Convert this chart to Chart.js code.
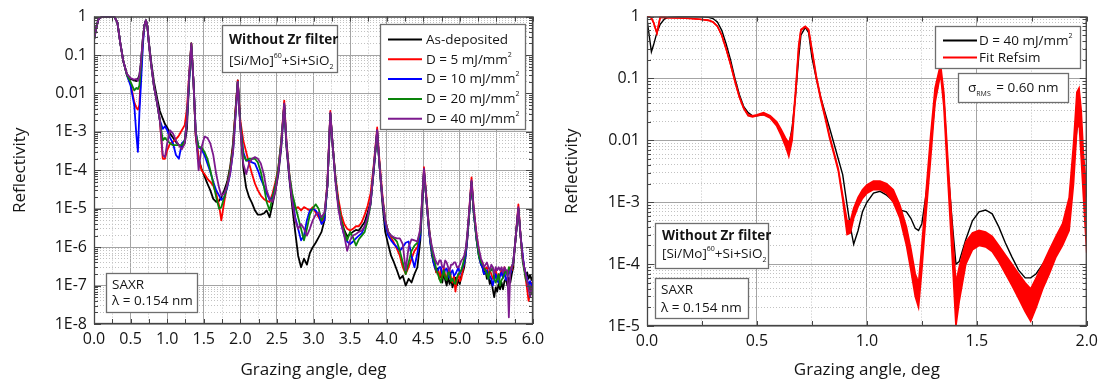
<!DOCTYPE html>
<html>
<head>
<meta charset="utf-8">
<script src="https://cdn.jsdelivr.net/npm/chart.js@4.4.1/dist/chart.umd.min.js"></script>
<style>
html,body{margin:0;padding:0;background:#fff;}
#wrap{position:relative;width:1104px;height:383px;overflow:hidden;}
.panel{position:absolute;top:0;width:552px;height:383px;}
</style>
</head>
<body>
<div id="wrap">
  <div class="panel" style="left:0"><canvas id="c1"></canvas></div>
  <div class="panel" style="left:552px"><canvas id="c2"></canvas></div>
</div>
<script>
// ================= DATA =================
// Left panel: grazing angle (deg)
const xLeft = [
 0.00,0.03,0.06,0.10,0.20,0.28,0.32,0.36,0.40,0.45,
 0.50,0.55,0.58,0.60,0.62,0.64,0.67,0.69,0.71,0.73,
 0.75,0.78,0.82,0.86,0.90,0.94,0.97,1.00,1.04,1.08,
 1.12,1.16,1.20,1.24,1.27,1.30,1.33,1.36,1.39,1.43,
 1.47,1.51,1.55,1.59,1.63,1.67,1.71,1.74,1.78,1.82,
 1.86,1.90,1.93,1.965,2.00,2.04,2.08,2.12,2.16,2.20,
 2.24,2.28,2.32,2.36,2.40,2.44,2.48,2.52,2.56,2.60,
 2.63,2.67,2.71,2.75,2.79,2.83,2.87,2.91,2.95,2.99,
 3.03,3.07,3.11,3.15,3.19,3.23,3.26,3.30,3.34,3.38,
 3.42,3.46,3.50,3.54,3.58,3.62,3.66,3.70,3.74,3.78,
 3.82,3.87,3.90,3.94,3.98,4.02,4.06,4.10,4.14,4.18,
 4.22,4.26,4.30,4.34,4.38,4.42,4.46,4.51,4.54,
 4.58,4.60,4.62,4.64,4.66,4.68,4.70,4.72,4.74,4.76,
 4.78,4.80,4.82,4.84,4.86,4.88,4.90,4.92,4.94,4.96,
 4.98,5.00,5.02,5.04,5.06,5.08,5.10,
 5.13,5.16,5.19,5.23,5.26,
 5.29,5.31,5.33,5.35,5.37,5.39,5.41,5.43,5.45,5.47,
 5.49,5.51,5.53,5.55,5.57,5.59,5.61,5.63,5.65,5.67,
 5.69,5.71,5.73,
 5.76,5.80,5.83,
 5.86,5.88,5.90,5.92,5.94,5.96,5.98,6.00
];
const asDeposited = [
 0.25,0.5,0.85,0.97,1.0,0.98,0.7,0.2,0.07,0.032,
 0.024,0.022,0.021,0.024,0.03,0.06,0.3,0.6,0.8,0.55,
 0.22,0.07,0.02,0.008,0.0035,2.2e-3,1.6e-3,1.3e-3,9e-4,7e-4,
 5.5e-4,4.5e-4,4e-4,5e-4,1.2e-3,0.02,0.2,0.02,8e-4,2e-4,
 1.1e-4,7e-5,4.5e-5,3e-5,1.8e-5,1.5e-5,1.6e-5,2e-5,3e-5,5e-5,
 1.2e-4,5e-4,3e-3,0.022,1.5e-3,1.2e-4,3.5e-5,2e-5,1.4e-5,9e-6,
 7e-6,7e-6,7.5e-6,9e-6,6e-6,1.3e-5,3e-5,8e-5,4e-4,5.5e-3,
 4e-4,6e-5,1.1e-5,2.5e-6,6e-7,3e-7,5e-7,3.5e-7,7e-7,1e-6,
 1.3e-6,1.8e-6,2.5e-6,5e-6,4e-5,3e-3,5e-4,6e-5,1.3e-5,5e-6,
 2.8e-6,1.9e-6,2.2e-6,2.5e-6,2.8e-6,2.7e-6,3.5e-6,4.5e-6,8e-6,1.5e-5,
 8e-5,1e-3,1.5e-4,1.5e-5,2.5e-6,1.2e-6,6e-7,4e-7,2.5e-7,1.5e-7,
 1.8e-7,1e-7,1.5e-7,1.2e-7,2e-7,3e-7,1.5e-6,9e-5,2e-5,
 2.5e-6,1.2e-6,6e-7,4e-7,3e-7,2.2e-7,2.8e-7,1.6e-7,2e-7,1.2e-7,
 2.2e-7,1.4e-7,1e-7,1.7e-7,1.1e-7,1.5e-7,9e-8,1.3e-7,1.6e-7,1e-7,
 1.4e-7,1.1e-7,1.8e-7,2.2e-7,3e-7,6e-7,1.5e-6,
 8e-6,5e-5,8e-6,1.5e-6,6e-7,
 3.5e-7,3e-7,2e-7,2.5e-7,1.5e-7,1.8e-7,1.1e-7,1.4e-7,8e-8,5e-8,
 9e-8,7e-8,1.1e-7,8e-8,1.2e-7,8e-8,1.3e-7,1.5e-7,1e-7,1.6e-7,
 1.2e-7,2e-7,3e-7,
 1.5e-6,1e-5,2e-6,
 5e-7,3e-7,1.8e-7,2.2e-7,1.5e-7,1.9e-7,1.4e-7,1.7e-7
];
const dose5 = [
 0.25,0.5,0.85,0.97,1.0,0.98,0.7,0.2,0.07,0.03,
 0.018,0.006,0.0042,0.0038,0.005,0.03,0.25,0.6,0.8,0.55,
 0.2,0.06,0.015,0.006,0.002,2e-4,2e-4,3.3e-4,5e-4,5.5e-4,
 6.5e-4,8e-4,1.1e-3,1.5e-3,4e-3,0.03,0.2,0.02,8e-4,2e-4,
 1e-4,8e-5,6e-5,5e-5,4e-5,2.5e-5,1.2e-5,5e-6,1.5e-5,4e-5,
 1e-4,4e-4,3e-3,0.022,2e-3,6e-4,3e-4,1.5e-4,8e-5,4.5e-5,
 3e-5,2.2e-5,1.8e-5,1.6e-5,1.5e-5,2.5e-5,5e-5,1.2e-4,6e-4,6.5e-3,
 6e-4,8e-5,2e-5,1e-5,1.1e-5,9e-6,1.1e-5,1e-5,9e-6,1.1e-5,
 8e-6,6e-6,4.5e-6,6e-6,5e-5,3.5e-3,5e-4,7e-5,1.8e-5,7e-6,
 4e-6,3e-6,2.7e-6,3e-6,3.5e-6,3.5e-6,4.5e-6,7e-6,1.2e-5,2.5e-5,
 1.2e-4,1.3e-3,2e-4,2.5e-5,5e-6,2.5e-6,1.8e-6,1.3e-6,9e-7,6e-7,
 3e-7,2e-7,3e-7,5e-7,8e-7,1e-6,2.5e-6,1.2e-4,2.5e-5,
 3e-6,1.5e-6,8e-7,5e-7,3e-7,2.2e-7,2.5e-7,1.5e-7,2.6e-7,1.6e-7,
 3e-7,1.8e-7,1.5e-7,2.6e-7,2.5e-7,1.6e-7,1.2e-7,1.8e-7,7e-8,1.4e-7,
 2e-7,1.3e-7,1.5e-7,2.5e-7,4e-7,7e-7,1.5e-6,
 1e-5,6.5e-5,1e-5,2e-6,8e-7,
 4e-7,4e-7,2.5e-7,2.8e-7,3e-7,2e-7,2.5e-7,2e-7,1.5e-7,1.6e-7,
 2.5e-7,1.8e-7,1.5e-7,2e-7,2.5e-7,1.6e-7,3e-7,2.2e-7,2e-7,2.5e-7,
 3e-7,2.5e-7,4e-7,
 1.5e-6,1.3e-5,2e-6,
 5e-7,3e-7,1.5e-7,8e-8,4e-8,6e-8,1.2e-7,1e-7
];
const dose10 = [
 0.25,0.5,0.85,0.97,1.0,0.98,0.7,0.2,0.07,0.03,
 0.016,0.005,0.0008,0.0003,0.003,0.015,0.2,0.6,0.8,0.55,
 0.2,0.06,0.015,0.006,0.002,1.2e-3,1.4e-3,1.1e-3,7e-4,5e-4,
 2.5e-4,2e-4,5e-4,6e-4,2e-3,0.02,0.17,0.02,1e-3,4e-4,
 3.5e-4,2.5e-4,1.5e-4,9e-5,5e-5,3e-5,2.2e-5,1.7e-5,2e-5,3.5e-5,
 8e-5,3e-4,2e-3,0.02,1.5e-3,3e-4,1.8e-4,1.8e-4,1.6e-4,1.5e-4,
 1e-4,6e-5,4e-5,2.5e-5,1.7e-5,2e-5,4e-5,1e-4,5e-4,5e-3,
 5e-4,7e-5,1.8e-5,6e-6,3e-6,1.5e-6,2e-6,5e-6,9e-6,1e-5,
 9e-6,7e-6,4e-6,5e-6,4e-5,3e-3,5e-4,6e-5,1.2e-5,4e-6,
 2e-6,1.4e-6,1.2e-6,1.4e-6,1.7e-6,2e-6,2.3e-6,3.5e-6,6e-6,1.3e-5,
 9e-5,1.1e-3,1.5e-4,2e-5,4e-6,2e-6,1.5e-6,1.2e-6,1e-6,8e-7,
 1e-6,1.3e-6,1.4e-6,6e-7,3e-7,7e-7,2e-6,1e-4,2e-5,
 2.5e-6,1.2e-6,7e-7,4e-7,3e-7,2.5e-7,2.5e-7,3e-7,3e-7,2e-7,
 2e-7,2.6e-7,2.8e-7,1.8e-7,1.6e-7,2.2e-7,2.5e-7,1.8e-7,2e-7,2.4e-7,
 3e-7,2e-7,2.5e-7,3e-7,4e-7,6e-7,1.5e-6,
 8e-6,5e-5,8e-6,1.5e-6,6e-7,
 3.5e-7,3e-7,2e-7,2.2e-7,2.5e-7,1.5e-7,1.8e-7,1.5e-7,1e-7,1.4e-7,
 2e-7,1.3e-7,1.2e-7,1.8e-7,2.2e-7,1.6e-7,2.2e-7,1.4e-7,1.6e-7,2.5e-7,
 2e-7,3e-7,4e-7,
 1.5e-6,1e-5,2e-6,
 6e-7,3e-7,2e-7,1.5e-7,1e-7,1.3e-7,1e-7,1.2e-7
];
const dose20 = [
 0.25,0.5,0.85,0.97,1.0,0.98,0.7,0.2,0.07,0.03,
 0.02,0.012,0.014,0.013,0.016,0.045,0.3,0.6,0.8,0.55,
 0.2,0.06,0.015,0.006,0.002,6e-4,7e-4,6e-4,5e-4,4.5e-4,
 4.5e-4,4.5e-4,4.5e-4,6e-4,2e-3,0.025,0.2,0.02,1e-3,4e-4,
 4e-4,3e-4,2e-4,1e-4,4.5e-5,2e-5,1e-5,1.1e-5,2e-5,4e-5,
 1e-4,3.5e-4,2.5e-3,0.02,1.5e-3,2.5e-4,1.8e-4,2e-4,2e-4,2e-4,
 1.6e-4,9e-5,4e-5,1.5e-5,9e-6,2e-5,4e-5,1.2e-4,6e-4,5e-3,
 5e-4,8e-5,2.5e-5,1.2e-5,6e-6,3e-6,1.5e-6,3e-6,7e-6,1e-5,
 1.3e-5,1e-5,5e-6,7e-6,4e-5,3e-3,5e-4,6e-5,1.3e-5,5e-6,
 2.5e-6,1.5e-6,2.5e-6,1.8e-6,1.1e-6,1.6e-6,2e-6,2.5e-6,5e-6,1.3e-5,
 1e-4,1e-3,1.5e-4,2e-5,5e-6,2.5e-6,2e-6,1.7e-6,1.4e-6,8e-7,
 4e-7,2e-7,4e-7,8e-7,1.1e-6,1.3e-6,2.5e-6,1e-4,2e-5,
 3e-6,1.5e-6,8e-7,5e-7,4e-7,2.5e-7,2e-7,1.5e-7,1.2e-7,1.8e-7,
 2.5e-7,1.6e-7,1.4e-7,2.2e-7,2.2e-7,1.3e-7,1.5e-7,1.2e-7,1.1e-7,1.6e-7,
 2e-7,2.2e-7,2.5e-7,3.5e-7,5e-7,8e-7,1.8e-6,
 8e-6,5e-5,8e-6,1.5e-6,6e-7,
 4e-7,3.5e-7,3e-7,2.5e-7,2e-7,1.5e-7,2.5e-7,2.5e-7,3e-7,1.5e-7,
 1.2e-7,1.5e-7,2e-7,1e-7,1.4e-7,1.6e-7,2e-7,2.5e-7,1.8e-7,3e-7,
 2.5e-7,3e-7,4e-7,
 1.5e-6,1e-5,2e-6,
 4e-7,2.5e-7,1.5e-7,1.2e-7,1e-7,8e-8,6e-8,6e-8
];
const dose40 = [
 0.25,0.5,0.85,0.97,1.0,0.98,0.7,0.2,0.07,0.032,
 0.025,0.023,0.024,0.021,0.028,0.06,0.3,0.6,0.8,0.55,
 0.2,0.06,0.015,0.006,0.002,2.5e-4,2.2e-4,5e-4,1.1e-3,9e-4,
 6e-4,4.5e-4,3.5e-4,5e-4,2e-3,0.03,0.2,0.02,1e-3,1e-4,
 4e-4,7.5e-4,7e-4,5e-4,2.5e-4,8e-5,3.5e-5,2.2e-5,2.5e-5,4e-5,
 8e-5,3e-4,2e-3,0.02,1.2e-3,1.5e-4,8e-5,1.5e-4,2e-4,2.2e-4,
 2e-4,1.5e-4,8e-5,3e-5,1.8e-5,1.5e-5,3e-5,9e-5,5e-4,5.5e-3,
 5e-4,7e-5,1.5e-5,5e-6,3e-6,4e-6,3e-6,2e-6,3e-6,5e-6,
 7e-6,8e-6,6e-6,8e-6,4e-5,3.2e-3,5e-4,5e-5,1e-5,4e-6,
 2e-6,8e-7,1.5e-6,2e-6,2.2e-6,2.5e-6,2.7e-6,3.5e-6,6e-6,1.4e-5,
 1e-4,1.1e-3,1.5e-4,2e-5,5e-6,2.5e-6,2e-6,1.8e-6,1.7e-6,1.7e-6,
 1.2e-6,2.5e-7,1e-6,1.6e-6,1.5e-6,1.4e-6,3e-6,1.1e-4,2e-5,
 3e-6,1.6e-6,1e-6,7e-7,5e-7,4e-7,3.5e-7,4.5e-7,4.5e-7,3e-7,
 3e-7,4.5e-7,4e-7,3e-7,2.5e-7,3.5e-7,3.5e-7,4e-7,4e-7,3e-7,
 3e-7,3.5e-7,4.5e-7,5e-7,6e-7,9e-7,2e-6,
 1e-5,5.5e-5,1e-5,2e-6,9e-7,
 5e-7,4e-7,3e-7,3.5e-7,4e-7,3e-7,2.5e-7,3.5e-7,3e-7,2e-7,
 3e-7,2.5e-7,3e-7,2.5e-7,3e-7,2.2e-7,3e-7,2.5e-7,2.5e-7,1.5e-8,
 2.5e-7,3e-7,4e-7,
 1.5e-6,1.1e-5,2e-6,
 5e-7,3e-7,2e-7,1.3e-7,8e-8,5e-8,9e-8,1e-7
];

// Right panel: grazing angle (deg)
const xRight = [
 0.00,0.01,0.02,0.03,0.045,0.06,0.08,0.10,0.15,0.20,
 0.25,0.28,0.30,0.32,0.34,0.36,0.38,0.40,0.42,0.44,
 0.46,0.48,0.50,0.53,0.56,0.59,0.61,0.63,0.645,0.66,
 0.675,0.69,0.70,0.72,0.735,0.75,0.77,0.79,0.81,0.83,
 0.85,0.87,0.89,0.91,0.925,0.94,0.96,0.98,1.00,1.03,
 1.06,1.09,1.12,1.15,1.18,1.20,1.22,1.235,1.25,1.27,
 1.29,1.31,1.335,1.35,1.37,1.39,1.405,1.42,1.45,1.48,
 1.51,1.54,1.57,1.60,1.63,1.66,1.69,1.72,1.745,1.77,
 1.80,1.83,1.86,1.89,1.92,1.94,1.955,1.965,1.975,1.985,
 2.00
];
const measured40 = [
 0.9,0.5,0.27,0.35,0.55,0.75,0.92,0.98,1.0,1.0,
 0.99,0.97,0.93,0.82,0.6,0.36,0.2,0.1,0.055,0.035,
 0.028,0.025,0.025,0.026,0.024,0.018,0.014,0.01,0.008,0.016,
 0.05,0.22,0.5,0.67,0.55,0.22,0.1,0.05,0.028,0.016,
 0.009,0.005,0.0028,9e-4,4e-4,2.1e-4,3.5e-4,7e-4,1e-3,1.4e-3,
 1.5e-3,1.3e-3,1.05e-3,7.5e-4,7e-4,5.5e-4,3.8e-4,3.5e-4,4.5e-4,1.4e-3,
 7e-3,0.045,0.13,0.05,3e-3,4e-4,1e-4,1.1e-4,2.5e-4,5e-4,
 7e-4,7.5e-4,6.5e-4,4e-4,2.2e-4,1.3e-4,8e-5,6e-5,6e-5,7e-5,
 1e-4,1.4e-4,2.2e-4,3.5e-4,8e-4,4e-3,0.015,0.02,0.01,3e-3,
 1.2e-3
];
// Refsim fit: the fast oscillation forms a band, read as its upper and lower edges
const fitUpper = [
 1.0,1.0,0.95,0.8,0.54,0.97,0.97,0.96,0.95,0.93,
 0.9,0.87,0.82,0.7,0.5,0.3,0.17,0.09,0.05,0.033,
 0.026,0.025,0.026,0.028,0.025,0.02,0.015,0.011,0.009,0.014,
 0.06,0.35,0.62,0.7,0.62,0.3,0.11,0.05,0.025,0.012,
 0.0065,0.0035,0.0013,5e-4,5e-4,8e-4,1.2e-3,1.6e-3,1.9e-3,2.2e-3,
 2.2e-3,2.0e-3,1.6e-3,9e-4,4e-4,1.8e-4,7e-5,5e-5,2e-4,1.6e-3,
 0.012,0.07,0.17,0.06,4e-3,3e-4,5e-5,9e-5,2.3e-4,3.2e-4,
 3.5e-4,3.3e-4,2.8e-4,2e-4,1.4e-4,1e-4,7e-5,5e-5,4e-5,6e-5,
 1e-4,1.7e-4,2.8e-4,4.5e-4,1.2e-3,9e-3,0.06,0.07,0.03,6e-3,
 1.5e-3
];
const fitLower = [
 1.0,1.0,0.95,0.8,0.54,0.97,0.97,0.96,0.95,0.93,
 0.9,0.87,0.82,0.7,0.5,0.3,0.17,0.09,0.05,0.033,
 0.025,0.024,0.025,0.026,0.023,0.017,0.012,0.008,0.0055,0.01,
 0.05,0.3,0.6,0.68,0.6,0.28,0.1,0.045,0.023,0.011,
 0.006,0.0032,0.0011,3e-4,3.2e-4,5.5e-4,8.5e-4,1.15e-3,1.4e-3,1.6e-3,
 1.6e-3,1.4e-3,1.0e-3,5.5e-4,2e-4,8e-5,3e-5,2e-5,8e-5,7e-4,
 5e-3,0.04,0.12,0.035,1.8e-3,1e-4,1e-5,2.5e-5,1e-4,1.7e-4,
 2e-4,1.9e-4,1.6e-4,1.1e-4,7e-5,4.5e-5,2.8e-5,1.7e-5,1.2e-5,2e-5,
 4e-5,7e-5,1.3e-4,2e-4,3.5e-4,2e-3,0.015,0.02,5e-3,1.2e-3,
 1.5e-4
];

// Tick labels
const xLabelsLeft = ['0.0','0.5','1.0','1.5','2.0','2.5','3.0','3.5','4.0','4.5','5.0','5.5','6.0'];
const xLabelsRight = ['0.0','0.5','1.0','1.5','2.0'];
const yDecadesLeft = [1,0.1,0.01,1e-3,1e-4,1e-5,1e-6,1e-7,1e-8];
const yLabelsLeft = ['1','0.1','0.01','1E-3','1E-4','1E-5','1E-6','1E-7','1E-8'];
const yDecadesRight = [1,0.1,0.01,1e-3,1e-4,1e-5];
const yLabelsRight = ['1','0.1','0.01','1E-3','1E-4','1E-5'];

// ================= STYLE / HELPERS =================
const FONT = "'Open Sans', 'DejaVu Sans', sans-serif";
const GRID_MAJOR = '#a4a4a4';
const GRID_MINOR = '#c2c2c2';
const TXT = '#151515';

const pts = (xs, ys) => xs.map((x, i) => ({x, y: ys[i]}));
const isHalf = v => v != null && Math.abs(v * 2 - Math.round(v * 2)) < 1e-6;
const isDecade = v => v != null && v > 0 && Math.abs(Math.log10(v) - Math.round(Math.log10(v))) < 1e-6;

function logTickValues(decades) {
  const lo = Math.round(Math.log10(Math.min(...decades)));
  const hi = Math.round(Math.log10(Math.max(...decades)));
  const out = [];
  for (let e = lo; e < hi; e++) for (let m = 1; m < 10; m++) out.push(Number((m * Math.pow(10, e)).toPrecision(3)));
  out.push(Math.pow(10, hi));
  return out;
}
function linTickValues(max, step) {
  const out = [];
  for (let i = 0; i <= Math.round(max / step); i++) out.push(Number((i * step).toFixed(4)));
  return out;
}

function xScale(max, labels, height) {
  const tv = linTickValues(max, 0.25);
  return {
    type: 'linear', min: 0, max,
    afterBuildTicks: s => { s.ticks = tv.map(v => ({value: v})); },
    afterFit: s => { s.height = height; },
    ticks: {
      autoSkip: false, maxRotation: 0, minRotation: 0, padding: 6, color: TXT,
      font: {family: FONT, size: 16},
      callback: v => isHalf(v) ? (labels[Math.round(v * 2)] ?? '') : ''
    },
    grid: {drawTicks: false, lineWidth: 1, color: c => (c.tick && isHalf(c.tick.value)) ? GRID_MAJOR : GRID_MINOR},
    border: {display: false, dash: c => (c.tick && !isHalf(c.tick.value)) ? [1, 2] : []},
    title: {display: true, text: 'Grazing angle, deg', color: TXT, font: {family: FONT, size: 17}, padding: {top: 0, bottom: 3}}
  };
}
function yScale(decades, labels, width) {
  const tv = logTickValues(decades);
  return {
    type: 'logarithmic', min: Math.min(...decades), max: Math.max(...decades),
    afterBuildTicks: s => { s.ticks = tv.map(v => ({value: v})); },
    afterFit: s => { s.width = width; },
    ticks: {
      autoSkip: false, padding: 7, color: TXT, font: {family: FONT, size: 16},
      callback: v => {
        const i = decades.findIndex(d => Math.abs(Math.log10(d) - Math.log10(v)) < 1e-6);
        return i >= 0 ? labels[i] : '';
      }
    },
    grid: {drawTicks: false, lineWidth: 1, color: c => (c.tick && isDecade(c.tick.value)) ? GRID_MAJOR : GRID_MINOR},
    border: {display: false, dash: c => (c.tick && !isDecade(c.tick.value)) ? [1, 2] : []},
    title: {display: true, text: 'Reflectivity', color: TXT, font: {family: FONT, size: 17}, padding: {top: 10, bottom: 0}}
  };
}

// text runs with super/subscripts
function labelRuns(label) {
  return label.split(/(²)/).filter(s => s).map(s => s === '²' ? {t: '2', sup: true} : {t: s});
}
function drawRuns(ctx, runs, x, cy, size) {
  ctx.fillStyle = TXT; ctx.textBaseline = 'alphabetic'; ctx.textAlign = 'left';
  const base = cy + size * 0.36;
  let cx = x;
  runs.forEach(r => {
    const small = r.sup || r.sub;
    const s = small ? Math.round(size * 0.55) : size;
    ctx.font = (r.bold ? 'bold ' : '') + s + 'px ' + FONT;
    const dy = r.sup ? -size * 0.52 : (r.sub ? size * 0.3 : 0);
    ctx.fillText(r.t, cx + (r.gap || 0), base + dy);
    cx += ctx.measureText(r.t).width + (r.gap || 0);
  });
}
function drawBoxFrame(ctx, b) {
  ctx.fillStyle = '#fff';
  ctx.fillRect(b.x, b.y, b.w, b.h);
  ctx.strokeStyle = '#6e6e6e'; ctx.lineWidth = 1.3;
  ctx.strokeRect(b.x + 0.5, b.y + 0.5, b.w, b.h);
}
function drawFrame(chart) {
  const {ctx, chartArea: a, scales: {x, y}} = chart;
  ctx.save();
  ctx.strokeStyle = '#454545'; ctx.lineWidth = 1;
  ctx.beginPath();
  x.ticks.forEach(t => {
    const px = Math.round(x.getPixelForValue(t.value)) + 0.5;
    ctx.moveTo(px, a.bottom); ctx.lineTo(px, a.bottom - 5);
    ctx.moveTo(px, a.top); ctx.lineTo(px, a.top + 5);
  });
  y.ticks.forEach(t => {
    const py = Math.round(y.getPixelForValue(t.value)) + 0.5;
    const L = isDecade(t.value) ? 7 : 4;
    ctx.moveTo(a.left, py); ctx.lineTo(a.left + L, py);
    ctx.moveTo(a.right, py); ctx.lineTo(a.right - L, py);
  });
  ctx.stroke();
  ctx.lineWidth = 1.3;
  ctx.strokeRect(a.left + 0.5, a.top + 0.5, a.right - a.left - 1, a.bottom - a.top - 1);
  ctx.restore();
}
function overlayPlugin(spec) {
  return {
    id: 'overlay',
    afterDatasetsDraw(chart) { drawFrame(chart); },
    afterDraw(chart) {
      const ctx = chart.ctx;
      ctx.save();
      spec.boxes.forEach(b => {
        drawBoxFrame(ctx, b);
        b.lines.forEach(l => drawRuns(ctx, l.runs, l.x, l.cy, b.size));
      });
      const lg = spec.legend;
      drawBoxFrame(ctx, lg);
      const items = chart.data.datasets.filter(d => !d.hideInLegend);
      items.forEach((d, i) => {
        const cy = lg.rowY + i * lg.rowGap;
        ctx.strokeStyle = d.borderColor; ctx.lineWidth = lg.lineW;
        ctx.beginPath(); ctx.moveTo(lg.lineX0, cy + 0.5); ctx.lineTo(lg.lineX1, cy + 0.5); ctx.stroke();
        drawRuns(ctx, labelRuns(d.label), lg.textX, cy, lg.size);
      });
      ctx.restore();
    }
  };
}

const structRuns = [{t: '[Si/Mo]'}, {t: '60', sup: true}, {t: '+Si+SiO'}, {t: '2', sub: true}];
const titleRuns = [{t: 'Without Zr filter', bold: true}];

// ================= LEFT CHART =================
const leftSeries = [
  {label: 'As-deposited', data: asDeposited, color: '#000000'},
  {label: 'D = 5 mJ/mm²', data: dose5, color: '#ff0000'},
  {label: 'D = 10 mJ/mm²', data: dose10, color: '#0000ff'},
  {label: 'D = 20 mJ/mm²', data: dose20, color: '#0a840a'},
  {label: 'D = 40 mJ/mm²', data: dose40, color: '#7d1a8e'}
];
new Chart(document.getElementById('c1'), {
  type: 'line',
  data: {
    datasets: leftSeries.map((s, i) => ({
      label: s.label, data: pts(xLeft, s.data), borderColor: s.color, backgroundColor: s.color,
      borderWidth: 1.8, pointRadius: 0, tension: 0, fill: false, borderJoinStyle: 'round',
      order: leftSeries.length - i
    }))
  },
  options: {
    responsive: true, maintainAspectRatio: false, animation: false, events: [],
    layout: {padding: {top: 16, right: 19, left: 0, bottom: 0}},
    scales: {x: xScale(6, xLabelsLeft, 59), y: yScale(yDecadesLeft, yLabelsLeft, 94)},
    plugins: {legend: {display: false}, tooltip: {enabled: false}}
  },
  plugins: [overlayPlugin({
    boxes: [
      {x: 222, y: 25, w: 115, h: 47, size: 13.5, lines: [
        {x: 229, cy: 39, runs: titleRuns},
        {x: 229, cy: 60, runs: structRuns}]},
      {x: 106, y: 273, w: 91, h: 39, size: 13.5, lines: [
        {x: 112, cy: 284, runs: [{t: 'SAXR'}]},
        {x: 112, cy: 300, runs: [{t: 'λ = 0.154 nm'}]}]}
    ],
    legend: {x: 380, y: 24, w: 145, h: 105, rowY: 39, rowGap: 19.8, lineX0: 388, lineX1: 422, textX: 426, lineW: 2, size: 13.5}
  })]
});

// ================= RIGHT CHART =================
new Chart(document.getElementById('c2'), {
  type: 'line',
  data: {
    datasets: [
      {label: 'D = 40 mJ/mm²', data: pts(xRight, measured40), borderColor: '#000000', backgroundColor: '#000000',
       borderWidth: 1.4, pointRadius: 0, tension: 0, fill: false, order: 3},
      {label: 'Fit Refsim', data: pts(xRight, fitUpper), borderColor: '#ff0000', backgroundColor: '#ff0000',
       borderWidth: 1.6, pointRadius: 0, tension: 0, fill: false, order: 1},
      {label: 'Fit Refsim (band lower edge)', hideInLegend: true, data: pts(xRight, fitLower), borderColor: '#ff0000',
       backgroundColor: '#ff0000', borderWidth: 1.6, pointRadius: 0, tension: 0, fill: '-1', order: 1}
    ]
  },
  options: {
    responsive: true, maintainAspectRatio: false, animation: false, events: [],
    layout: {padding: {top: 16, right: 16, left: 0, bottom: 0}},
    scales: {x: xScale(2, xLabelsRight, 57), y: yScale(yDecadesRight, yLabelsRight, 95)},
    plugins: {legend: {display: false}, tooltip: {enabled: false}}
  },
  plugins: [overlayPlugin({
    boxes: [
      {x: 406, y: 73, w: 110, h: 29, size: 13.5, lines: [
        {x: 416, cy: 87, runs: [{t: 'σ'}, {t: 'RMS', sub: true}, {t: ' = 0.60 nm', gap: 2}]}]},
      {x: 103, y: 223, w: 113, h: 45, size: 13.5, lines: [
        {x: 110, cy: 235, runs: titleRuns},
        {x: 110, cy: 253, runs: structRuns}]},
      {x: 103, y: 278, w: 93, h: 40, size: 13.5, lines: [
        {x: 109, cy: 289, runs: [{t: 'SAXR'}]},
        {x: 109, cy: 307, runs: [{t: 'λ = 0.154 nm'}]}]}
    ],
    legend: {x: 383, y: 26, w: 145, h: 42, rowY: 40, rowGap: 17, lineX0: 391, lineX1: 425, textX: 427, lineW: 2, size: 13.5}
  })]
});
</script>
</body>
</html>
